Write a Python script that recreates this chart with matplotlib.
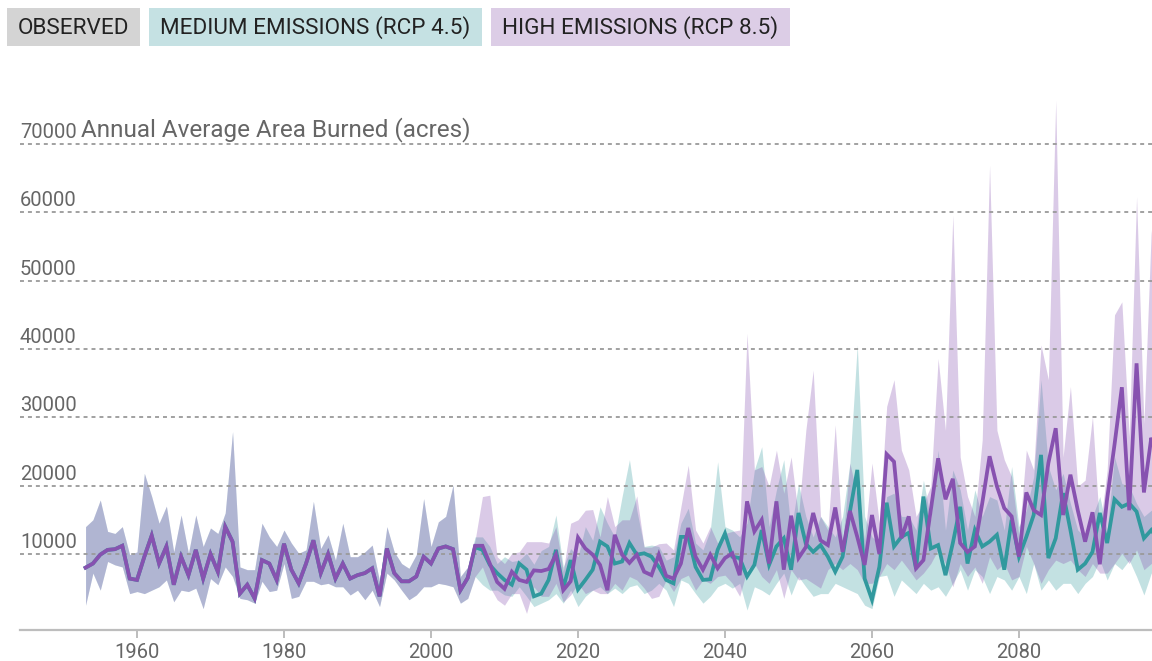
import matplotlib
matplotlib.use("Agg")
import matplotlib.pyplot as plt
from matplotlib.patches import Rectangle
from matplotlib.transforms import blended_transform_factory

plt.rcParams['font.family'] = ['Roboto', 'DejaVu Sans']

# ---------------- data (thousands of acres) ----------------
UNIT = 1000

hist_years = list(range(1953, 2006))
hist_mean = [8.0, 8.6, 9.9, 10.6, 10.7, 11.2, 6.4, 6.2, 9.6, 12.7,
             8.6, 11.1, 5.5, 9.6, 6.9, 10.6, 6.4, 10.0, 7.4, 14.0,
             11.8, 4.2, 5.5, 3.5, 9.1, 8.6, 6.2, 11.5, 7.7, 5.7,
             8.6, 12.0, 7.2, 10.0, 6.4, 8.6, 6.4, 6.9, 7.2, 7.9,
             3.8, 10.8, 7.2, 6.0, 6.0, 6.7, 9.6, 8.6, 10.8, 11.1,
             10.7, 4.7, 6.5]
hist_low = [2.5, 7.2, 4.7, 8.9, 8.4, 8.1, 4.2, 4.5, 4.2, 4.7,
            5.2, 6.2, 3.0, 4.7, 4.5, 5.0, 2.0, 6.4, 5.5, 8.1,
            6.7, 3.5, 3.3, 2.8, 6.0, 4.5, 4.7, 8.6, 3.5, 3.8,
            6.0, 6.0, 5.5, 5.7, 5.2, 5.2, 4.0, 4.7, 3.3, 4.7,
            2.3, 7.2, 6.2, 4.7, 3.3, 4.0, 5.2, 5.2, 5.7, 5.5,
            5.2, 2.8, 3.5]
hist_high = [14.0, 15.0, 17.9, 13.3, 13.0, 14.0, 9.9, 10.3, 21.8, 18.4,
             14.5, 17.0, 10.3, 15.7, 10.1, 15.7, 11.1, 13.8, 13.0, 16.0,
             27.9, 8.1, 7.7, 7.7, 14.5, 12.5, 11.1, 13.5, 11.6, 10.1,
             10.6, 17.7, 10.8, 12.8, 9.1, 14.5, 9.6, 9.6, 10.3, 11.3,
             6.0, 14.0, 10.3, 8.6, 7.9, 9.9, 18.1, 11.1, 14.7, 15.5,
             20.1, 6.7, 8.1]

future_years = list(range(2006, 2100))
med_mean = [11.0, 10.6, 8.4, 7.2, 6.2, 5.5, 8.6, 7.7, 3.8, 4.2,
            6.2, 10.6, 5.0, 9.1, 4.8, 6.2, 7.7, 11.8, 11.1, 8.6,
            8.9, 11.6, 9.9, 10.1, 9.6, 8.1, 6.2, 5.7, 12.5, 12.5,
            8.1, 6.2, 6.3, 10.6, 13.0, 9.6, 9.4, 6.7, 8.4, 13.5,
            8.4, 11.1, 12.3, 7.7, 16.0, 11.5, 10.3, 11.3, 9.6, 7.4,
            9.6, 16.2, 22.3, 6.4, 3.3, 8.1, 17.5, 11.1, 12.5, 13.1,
            7.8, 18.4, 10.8, 11.3, 6.9, 11.6, 16.9, 8.6, 13.5, 11.1,
            11.8, 12.8, 7.7, 15.0, 9.6, 12.5, 15.7, 24.5, 9.4, 12.3,
            18.9, 13.5, 7.7, 8.6, 10.3, 16.0, 11.6, 18.0, 16.9, 17.4,
            16.2, 12.3, 13.5, 12.0]
med_low = [6.7, 5.5, 4.7, 4.7, 4.0, 3.8, 5.2, 3.8, 2.3, 2.8,
           3.3, 4.2, 2.8, 4.7, 2.3, 3.8, 4.7, 5.2, 4.2, 5.0,
           4.2, 5.2, 5.5, 4.2, 4.7, 5.7, 4.7, 2.3, 6.2, 5.7,
           4.2, 2.8, 3.8, 5.2, 5.7, 5.0, 5.7, 1.8, 5.2, 4.7,
           4.0, 5.7, 7.2, 4.0, 6.7, 5.2, 3.8, 4.2, 4.2, 5.7,
           5.2, 4.7, 4.2, 2.5, 2.0, 6.7, 6.9, 3.8, 6.2, 5.2,
           4.2, 5.7, 4.7, 5.2, 3.8, 5.7, 7.7, 4.7, 7.7, 6.7,
           4.2, 6.7, 6.2, 4.7, 6.7, 4.2, 8.6, 4.7, 6.2, 4.7,
           5.7, 5.7, 4.2, 5.7, 6.7, 9.1, 6.2, 8.6, 7.7, 9.1,
           6.7, 4.0, 7.2, 7.0]
med_high = [12.5, 12.5, 11.1, 8.6, 9.6, 8.9, 9.1, 10.1, 8.5, 10.5,
            11.1, 15.7, 8.1, 10.8, 9.6, 14.0, 12.0, 16.9, 14.5, 12.5,
            18.4, 23.8, 16.4, 11.1, 11.3, 11.1, 9.1, 9.6, 14.5, 16.7,
            11.6, 10.6, 13.5, 23.5, 14.0, 13.5, 12.5, 14.5, 22.3, 25.7,
            14.0, 19.4, 23.8, 13.5, 20.3, 15.5, 12.5, 15.5, 14.0, 12.5,
            15.5, 23.3, 40.6, 15.5, 12.5, 11.6, 18.4, 18.9, 15.5, 15.5,
            13.5, 20.8, 15.0, 25.2, 13.5, 22.3, 19.4, 13.5, 19.4, 15.5,
            18.4, 17.9, 13.5, 22.8, 14.0, 16.4, 21.3, 35.5, 22.8, 19.4,
            21.8, 17.4, 13.5, 12.5, 15.5, 18.4, 13.5, 24.2, 20.3, 19.9,
            17.4, 15.5, 16.4, 16.0]
high_mean = [11.2, 11.2, 8.6, 5.9, 4.9, 7.4, 6.2, 5.9, 7.6, 7.5,
             7.8, 9.9, 4.7, 6.0, 12.4, 10.8, 9.9, 8.4, 4.7, 12.8,
             9.9, 8.7, 9.9, 7.4, 6.9, 9.9, 6.8, 6.4, 8.6, 13.8,
             9.6, 7.7, 9.9, 7.9, 9.4, 10.1, 6.9, 17.7, 13.3, 15.0,
             8.6, 17.7, 7.7, 15.6, 9.4, 11.0, 16.0, 12.0, 11.3, 16.8,
             10.3, 16.3, 12.5, 8.4, 15.7, 10.0, 24.6, 23.5, 12.3, 15.5,
             7.9, 9.1, 16.4, 24.0, 18.0, 21.0, 11.6, 10.3, 11.1, 17.4,
             24.3, 19.9, 16.7, 15.5, 9.6, 19.0, 16.4, 15.7, 23.3, 28.4,
             15.7, 21.6, 16.4, 11.8, 16.1, 8.5, 18.1, 26.0, 34.4, 16.4,
             37.9, 19.0, 27.0, 24.0]
high_low = [6.7, 8.1, 5.2, 3.3, 2.5, 4.2, 4.2, 1.3, 5.2, 3.8,
            3.8, 5.7, 3.0, 4.0, 5.7, 4.2, 4.7, 4.2, 4.2, 5.7,
            4.7, 6.7, 6.2, 5.0, 3.5, 3.8, 6.2, 4.5, 6.4, 6.9,
            4.7, 6.2, 5.7, 6.7, 6.9, 5.7, 3.8, 7.7, 8.6, 6.7,
            5.7, 7.7, 3.5, 7.7, 6.2, 6.4, 5.7, 5.0, 7.7, 8.6,
            7.7, 8.6, 7.7, 5.7, 5.7, 6.7, 8.6, 7.7, 9.1, 7.7,
            6.2, 7.2, 8.6, 10.6, 8.6, 5.2, 8.6, 6.7, 8.1, 5.7,
            9.6, 7.7, 8.6, 6.2, 6.7, 11.1, 8.6, 5.7, 7.7, 9.1,
            8.6, 9.1, 7.7, 6.7, 8.6, 7.2, 7.2, 8.6, 10.1, 8.6,
            10.6, 7.7, 8.6, 9.0]
high_high = [12.0, 18.4, 18.6, 9.6, 8.6, 10.1, 10.3, 11.8, 11.8, 11.8,
             11.6, 14.0, 7.5, 14.5, 15.0, 16.4, 16.5, 12.5, 18.4, 14.0,
             15.0, 15.0, 18.5, 11.0, 11.0, 11.5, 11.6, 10.6, 16.9, 23.0,
             13.5, 11.6, 14.0, 11.6, 13.0, 13.3, 13.5, 42.3, 22.3, 22.8,
             19.9, 25.2, 18.9, 24.2, 15.5, 28.1, 36.9, 15.5, 13.5, 28.9,
             11.6, 23.3, 18.4, 12.0, 23.3, 14.5, 31.6, 35.5, 25.2, 22.3,
             15.5, 17.4, 19.9, 38.6, 28.1, 59.6, 24.2, 18.4, 15.5, 26.7,
             66.9, 28.1, 23.8, 21.3, 12.5, 25.2, 22.3, 40.6, 35.5, 76.4,
             24.2, 34.5, 19.9, 20.8, 30.1, 13.5, 22.3, 45.0, 46.9, 27.2,
             62.3, 29.1, 57.4, 40.0]

y_ticks = [10000, 20000, 30000, 40000, 50000, 60000, 70000]
x_ticks = [1960, 1980, 2000, 2020, 2040, 2060, 2080]
legend_labels = ["OBSERVED", "MEDIUM EMISSIONS (RCP 4.5)", "HIGH EMISSIONS (RCP 8.5)"]
chart_title = "Annual Average Area Burned (acres)"

# ---------------- styling ----------------
TEAL = "#31999e"
PURPLE = "#8752b0"
GRAY_TXT = "#666666"
legend_bg = ["#d4d4d4", "#c5e1e3", "#dccde6"]
legend_px = [(7, 140), (149, 482), (491, 790)]  # box x-extents in pixels

W, H = 1152, 661
fig = plt.figure(figsize=(W / 100, H / 100), dpi=100)
ax_left, ax_bottom_px, ax_top_px = 20, 630, 60
ax = fig.add_axes([ax_left / W, (H - ax_bottom_px) / H,
                   1 - ax_left / W, (ax_bottom_px - ax_top_px) / H])

years = hist_years + future_years
med = [v * UNIT for v in hist_mean + med_mean]
med_lo = [v * UNIT for v in hist_low + med_low]
med_hi = [v * UNIT for v in hist_high + med_high]
hig = [v * UNIT for v in hist_mean + high_mean]
hig_lo = [v * UNIT for v in hist_low + high_low]
hig_hi = [v * UNIT for v in hist_high + high_high]

ax.fill_between(years, med_lo, med_hi, color=TEAL, alpha=0.29, lw=0, zorder=1)
ax.fill_between(years, hig_lo, hig_hi, color=PURPLE, alpha=0.30, lw=0, zorder=2)

for t in y_ticks:
    ax.axhline(t, color="#9a9a9a", lw=1.3, ls=(0, (2.2, 2.2)), zorder=3)

ax.plot(years, med, color=TEAL, lw=2.7, zorder=4, solid_joinstyle="miter")
ax.plot(years, hig, color=PURPLE, lw=2.7, zorder=5, solid_joinstyle="miter")

ax.set_xlim(1944.08, 2098.1)
ax.set_ylim(-1127, 82290)

for s in ["left", "right", "top"]:
    ax.spines[s].set_visible(False)
ax.spines["bottom"].set_color("#bdbdbd")
ax.spines["bottom"].set_linewidth(1.6)
ax.spines["bottom"].set_zorder(6)

ax.set_yticks([])
ax.set_xticks(x_ticks)
ax.set_xticklabels([str(x) for x in x_ticks])
ax.tick_params(axis="x", direction="out", length=6, width=1.4, color="#bdbdbd",
               labelsize=14.5, labelcolor=GRAY_TXT, pad=3)

tr = blended_transform_factory(fig.transFigure, ax.transData)
for t in y_ticks:
    ax.text(20 / W, t + 280, str(t), transform=tr, ha="left", va="bottom",
            fontsize=14.5, color=GRAY_TXT, zorder=7)
ax.text(81 / W, y_ticks[-1] + 280, chart_title, transform=tr, ha="left",
        va="bottom", fontsize=17.5, color=GRAY_TXT, zorder=7)

# legend boxes
for (x0, x1), bg, lab in zip(legend_px, legend_bg, legend_labels):
    fig.patches.append(Rectangle((x0 / W, (H - 46) / H), (x1 - x0) / W, 38 / H,
                                 transform=fig.transFigure, facecolor=bg,
                                 edgecolor="none", zorder=0))
    fig.text((x0 + 11) / W, (H - 28) / H, lab, ha="left", va="center",
             fontsize=16.2, color="#222222")

fig.savefig("out.png", dpi=100)
